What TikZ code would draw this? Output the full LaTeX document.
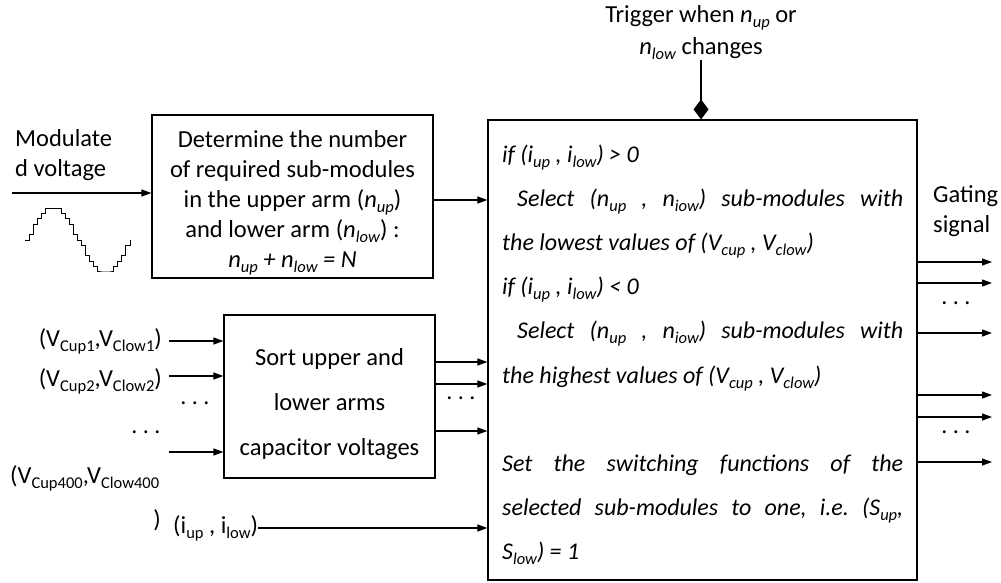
\documentclass[tikz,border=0pt]{standalone}
\usepackage{fontspec}
\setmainfont{Carlito}
\usetikzlibrary{arrows.meta}
% lowered, smaller text used for all indices
\newcommand\sbs[1]{\raisebox{-5pt}{\fontsize{16.5}{16.5}\selectfont #1}}
\tikzset{
  blk/.style={draw, line width=1.2pt, inner sep=0pt},
  conn/.style={line width=1.2pt, -{Triangle[length=10pt,width=7pt]}},
  txt/.style={font=\fontsize{24.5}{30}\selectfont, inner sep=0pt},
  body/.style={font=\fontsize{24}{30}\selectfont\itshape\frenchspacing, inner sep=0pt, anchor=base west},
  dots/.style={font=\fontsize{24}{30}\selectfont, inner sep=0pt},
}
\begin{document}
\begin{tikzpicture}[x=1pt, y=-1pt]
\useasboundingbox (0,0) rectangle (1001,582);

% blocks
\node[blk, minimum width=281pt, minimum height=163pt] (det) at (292.5,196.5) {};
\node[txt, align=center, font=\fontsize{24.5}{30}\selectfont] (dettxt) at (292.5,203)
  {Determine the number\\ of required sub-modules\\
   in the upper arm (\textit{n}\sbs{\textit{up}})\\
   and lower arm (\textit{n}\sbs{\textit{low}}) :\\
   \textit{n\sbs{up} + n\sbs{low} = N}};
\node[blk, minimum width=211pt, minimum height=163pt] (sort) at (329.5,396.5) {};
\node[txt, align=center, font=\fontsize{24.5}{45}\selectfont] (sorttxt) at (329.5,404)
  {Sort upper and\\ lower arms\\ capacitor voltages};
\node[blk, minimum width=429pt, minimum height=460pt] (ctrl) at (702.5,350) {};

% modulated voltage input
\node[txt, anchor=west, align=left] (modlbl) at (15,155) {Modulate\\d voltage};
\coordinate (modin) at (12,193);
\draw[conn] (modin) -- (modin -| det.west);
\draw[line width=1pt] plot[const plot, domain=0:105, samples=27]
  ({25+\x}, {240-5.33*round(6*sin(3.4286*\x))});

% determine -> control
\draw[conn] ([yshift=-3.5pt]det.east) -- ([yshift=-3.5pt]det.east -| ctrl.west);

% capacitor voltage inputs
\coordinate (in1) at (169,341);
\coordinate (in2) at (169,376);
\coordinate (in3) at (169,452);
\draw[conn] (in1) -- (in1 -| sort.west);
\draw[conn] (in2) -- (in2 -| sort.west);
\draw[conn] (in3) -- (in3 -| sort.west);
\node[txt, anchor=east] (v1) at (162,341) {(V\sbs{Cup1},V\sbs{Clow1})};
\node[txt, anchor=east] (v2) at (162,381) {(V\sbs{Cup2},V\sbs{Clow2})};
\node[dots] (d1) at (195,403) {.\ .\ .};
\node[dots] (d2) at (146,432) {.\ .\ .};
\node[txt, anchor=west] (v400) at (10,478) {(V\sbs{Cup400},V\sbs{Clow400}};
\node[txt] (par) at (157,520) {)};

% arm currents
\node[txt, anchor=west] (cur) at (173,528) {(i\sbs{up} , i\sbs{low})};
\draw[conn] (cur.east) -- (cur.east -| ctrl.west);

% sorted outputs
\coordinate (s1) at (435,362);
\coordinate (s2) at (435,384);
\coordinate (s3) at (435,431);
\draw[conn] (s1) -- (s1 -| ctrl.west);
\draw[conn] (s2) -- (s2 -| ctrl.west);
\draw[conn] (s3) -- (s3 -| ctrl.west);
\node[dots] (d3) at (461,398) {.\ .\ .};

% trigger
\node[txt, align=center, font=\fontsize{24.5}{32}\selectfont] (trig) at (701,33)
  {Trigger when \textit{n}\sbs{\textit{up}} or\\ \textit{n}\sbs{\textit{low}} changes};
\coordinate (trigend) at (701,60);
\draw[line width=1.2pt, -{Diamond[length=20pt,width=15pt]}] (trigend) -- (trigend |- ctrl.north);

% control algorithm text
\node[body] (l1) at (502,162) {if (i\sbs{up} , i\sbs{low}) > 0};
\node[body] (l2) at (517,206) {\makebox[386pt][s]{Select (n\sbs{up} , n\sbs{iow}) sub-modules with}};
\node[body] (l3) at (502,250) {the lowest values of (V\sbs{cup} , V\sbs{clow})};
\node[body] (l4) at (502,294) {if (i\sbs{up} , i\sbs{low}) < 0};
\node[body] (l5) at (517,338) {\makebox[386pt][s]{Select (n\sbs{up} , n\sbs{iow}) sub-modules with}};
\node[body] (l6) at (502,383) {the highest values of (V\sbs{cup} , V\sbs{clow})};
\node[body] (l7) at (502,471) {\makebox[401pt][s]{Set the switching functions of the}};
\node[body] (l8) at (502,515) {\makebox[401pt][s]{selected sub-modules to one, i.e. (S\sbs{up},}};
\node[body] (l9) at (502,559) {S\sbs{low}) = 1};

% gating outputs
\node[txt, anchor=west, align=left] (gate) at (933,211) {Gating\\signal};
\foreach \y [count=\i] in {262,283,333,395,417,462}{
  \coordinate (g\i) at (992,\y);
  \draw[conn] (g\i -| ctrl.east) -- (g\i);
}
\node[dots] (d4) at (956,303) {.\ .\ .};
\node[dots] (d5) at (956,432) {.\ .\ .};
\end{tikzpicture}
\end{document}
